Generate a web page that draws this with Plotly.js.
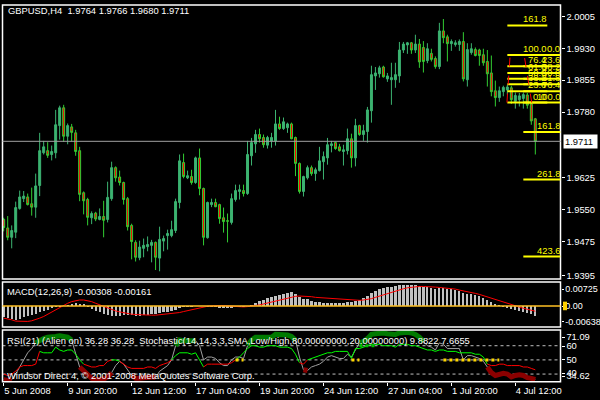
<!DOCTYPE html>
<html><head><meta charset="utf-8">
<script src="https://cdn.plot.ly/plotly-3.0.1.min.js"></script>
<style>html,body{margin:0;padding:0;background:#000;}#chart{width:600px;height:400px;}</style>
</head><body><div id="chart"></div>
<script>
// ---- price data (GBPUSD H4) ----
const open=[
1.9527,1.9507,1.9485,1.9497,1.9553,1.9576,1.9580,1.9564,1.9556,1.9607,
1.9684,1.9689,1.9680,1.9684,1.9748,1.9790,1.9723,1.9745,1.9731,1.9689,
1.9590,1.9574,1.9531,1.9542,1.9527,1.9534,1.9527,1.9576,1.9649,1.9627,
1.9614,1.9576,1.9513,1.9473,1.9437,1.9459,1.9463,1.9466,1.9473,1.9436,
1.9476,1.9489,1.9489,1.9501,1.9567,1.9661,1.9625,1.9628,1.9614,1.9672,
1.9600,1.9484,1.9562,1.9567,1.9562,1.9531,1.9524,1.9520,1.9574,1.9593,
1.9595,1.9588,1.9677,1.9705,1.9727,1.9720,1.9702,1.9712,1.9712,1.9752,
1.9741,1.9743,1.9752,1.9720,1.9659,1.9593,1.9625,1.9649,1.9635,1.9642,
1.9663,1.9672,1.9701,1.9708,1.9698,1.9687,1.9689,1.9717,1.9672,1.9748,
1.9727,1.9734,1.9783,1.9865,1.9870,1.9886,1.9858,1.9856,1.9856,1.9865,
1.9926,1.9938,1.9943,1.9926,1.9940,1.9932,1.9901,1.9918,1.9906,1.9887,
1.9971,1.9957,1.9941,1.9939,1.9939,1.9946,1.9856,1.9920,1.9927,1.9926,
1.9915,1.9899,1.9872,1.9830,1.9814,1.9828,1.9832,1.9837,1.9805,1.9809,
1.9812,1.9820,1.9799,1.9764];
const high=[
1.9531,1.9535,1.9513,1.9569,1.9595,1.9594,1.9588,1.9602,1.9635,1.9731,
1.9712,1.9709,1.9701,1.9785,1.9795,1.9797,1.9753,1.9752,1.9738,1.9698,
1.9593,1.9578,1.9546,1.9545,1.9553,1.9571,1.9616,1.9663,1.9652,1.9642,
1.9616,1.9580,1.9517,1.9478,1.9477,1.9482,1.9487,1.9479,1.9475,1.9510,
1.9489,1.9503,1.9524,1.9576,1.9680,1.9682,1.9642,1.9644,1.9675,1.9694,
1.9602,1.9569,1.9576,1.9576,1.9564,1.9555,1.9541,1.9588,1.9609,1.9609,
1.9609,1.9712,1.9719,1.9738,1.9741,1.9727,1.9724,1.9731,1.9785,1.9769,
1.9767,1.9755,1.9755,1.9722,1.9661,1.9630,1.9654,1.9654,1.9649,1.9698,
1.9687,1.9719,1.9712,1.9710,1.9705,1.9703,1.9741,1.9729,1.9764,1.9750,
1.9750,1.9792,1.9889,1.9886,1.9889,1.9889,1.9872,1.9896,1.9896,1.9945,
1.9945,1.9945,1.9945,1.9962,1.9952,1.9947,1.9942,1.9929,1.9911,1.9990,
1.9999,1.9962,1.9951,1.9949,1.9951,1.9968,1.9942,1.9942,1.9932,1.9929,
1.9929,1.9926,1.9913,1.9854,1.9840,1.9842,1.9844,1.9842,1.9826,1.9825,
1.9826,1.9825,1.9804,1.9766];
const low=[
1.9499,1.9478,1.9459,1.9483,1.9550,1.9568,1.9560,1.9536,1.9531,1.9582,
1.9680,1.9672,1.9666,1.9671,1.9715,1.9710,1.9704,1.9711,1.9677,1.9570,
1.9539,1.9513,1.9516,1.9523,1.9525,1.9485,1.9520,1.9571,1.9616,1.9607,
1.9562,1.9501,1.9433,1.9428,1.9431,1.9438,1.9452,1.9426,1.9408,1.9405,
1.9452,1.9456,1.9485,1.9495,1.9553,1.9624,1.9622,1.9609,1.9611,1.9584,
1.9466,1.9482,1.9556,1.9556,1.9517,1.9496,1.9473,1.9515,1.9569,1.9574,
1.9581,1.9585,1.9654,1.9684,1.9708,1.9696,1.9694,1.9696,1.9701,1.9738,
1.9738,1.9731,1.9716,1.9629,1.9588,1.9581,1.9621,1.9630,1.9618,1.9640,
1.9621,1.9656,1.9685,1.9691,1.9687,1.9654,1.9680,1.9649,1.9652,1.9724,
1.9712,1.9708,1.9755,1.9832,1.9861,1.9861,1.9851,1.9797,1.9837,1.9849,
1.9919,1.9917,1.9917,1.9919,1.9884,1.9873,1.9895,1.9899,1.9882,1.9881,
1.9942,1.9899,1.9924,1.9934,1.9924,1.9852,1.9840,1.9915,1.9911,1.9889,
1.9889,1.9840,1.9817,1.9793,1.9804,1.9817,1.9821,1.9799,1.9788,1.9793,
1.9788,1.9788,1.9750,1.9680];
const close=[
1.9508,1.9485,1.9501,1.9555,1.9580,1.9582,1.9562,1.9556,1.9606,1.9689,
1.9698,1.9678,1.9687,1.9750,1.9790,1.9723,1.9748,1.9732,1.9687,1.9586,
1.9571,1.9532,1.9541,1.9528,1.9534,1.9525,1.9579,1.9649,1.9625,1.9614,
1.9574,1.9510,1.9475,1.9438,1.9462,1.9466,1.9468,1.9473,1.9438,1.9480,
1.9482,1.9494,1.9503,1.9569,1.9665,1.9628,1.9630,1.9614,1.9672,1.9600,
1.9485,1.9567,1.9567,1.9557,1.9529,1.9522,1.9523,1.9576,1.9595,1.9597,
1.9588,1.9680,1.9708,1.9727,1.9717,1.9703,1.9720,1.9720,1.9752,1.9741,
1.9757,1.9752,1.9717,1.9659,1.9593,1.9628,1.9649,1.9635,1.9644,1.9665,
1.9675,1.9703,1.9705,1.9694,1.9689,1.9691,1.9717,1.9672,1.9748,1.9727,
1.9736,1.9785,1.9868,1.9872,1.9884,1.9863,1.9865,1.9861,1.9868,1.9926,
1.9940,1.9943,1.9926,1.9940,1.9898,1.9899,1.9929,1.9904,1.9887,1.9971,
1.9955,1.9941,1.9946,1.9943,1.9946,1.9858,1.9927,1.9929,1.9913,1.9913,
1.9896,1.9870,1.9828,1.9814,1.9830,1.9838,1.9839,1.9809,1.9819,1.9818,
1.9821,1.9796,1.9759,1.9711];

const tickIndex=[0,16,32,48,64,80,96,112,128];
const tickLabels=["5 Jun 2008","9 Jun 20:00","12 Jun 12:00","17 Jun 04:00","19 Jun 20:00","24 Jun 12:00","27 Jun 04:00","1 Jul 20:00","4 Jul 12:00"];
const priceTicks=[2.0005,1.9930,1.9855,1.9780,1.9625,1.9550,1.9475,1.9395];
const lastPrice=1.9711;

// ---- MACD (units of 0.0001) ----
const macdMainE4=[
-32,-37,-40,-42,-39,-35,-31,-27,-25,-19,-15,-11,-7,-4,-2,-1,3,7,8,7,
5,-4,-10,-15,-19,-23,-27,-29,-29,-29,-27,-27,-28,-29,-29,-28,-26,-25,-24,-22,
-19,-17,-15,-12,-7,-4,-4,-3,1,1,0,-2,-3,-4,-5,-6,-6,-5,-4,-3,
-3,1,4,9,14,19,23,27,30,33,36,39,41,35,26,
22,20,16,13,11,10,10,10,10,10,10,11,11,15,19,23,29,39,46,52,
55,57,58,59,62,63,64,63,63,61,58,56,54,51,53,54,52,50,47,45,
38,37,35,32,29,25,19,13,7,2,-3,-6,-10,-13,-15,-17,-20,-25,-31];
const macdSignalE4=[
-37,-39,-42,-46,-47,-47,-47,-45,-42,-37,-32,-25,-19,-12,-5,1,8,13,16,18,
18,16,13,8,3,-2,-7,-11,-15,-18,-21,-23,-25,-26,-27,-28,-28,-28,-28,-27,
-26,-25,-24,-22,-20,-17,-14,-11,-8,-5,-3,-1,0,1,1,1,0,-1,-2,-3,
-3,-2,-1,1,3,6,9,12,15,18,21,24,27,29,30,
30,29,28,26,25,24,23,22,21,20,19,18,17,17,17,18,19,22,26,30,
34,38,42,46,49,52,55,57,58,59,59,59,58,57,56,55,54,52,51,48,
46,44,41,38,35,31,27,23,19,15,11,7,3,-1,-4,-7,-10,-13,-16];
const macdLabels=[['0.00725',0.00725,289],['0.00',0,306],['-0.00638',-0.00638,321.7]];

// ---- RSI / Stochastic window ----
const rsi=[
36,35.5,36,40,45,50,55,58,62,64,65,66,66,66.5,67,66.5,66,64,55,45,
42,39,37,36,36,36.5,38,41,46,49,47,43,39,37,37,37.5,38,38,37.5,42,
44,46,50,60,64,63.5,63.5,63,63.5,60,50,52,52,51,48,46,46,50,52,52,
51,60,64,66,66,65.5,66,66,68,68,68,67.5,66.5,64,52,43,42.5,45,46,47,
49,52,53,52,51,51,54,52,57,62,63,65,68,68.5,69,69,68.5,68,68,69,
69.5,69.5,69,68,66,63,60,59,57,62,61,58,58,58,58,50,53,53,52,51,
49,45,41,39,40,40.5,40,38,39,39.5,39,37.5,37,36.28];
const rsiHiRanges=[[8,17],[43,48],[61,73],[89,105]];
const rsiLoRanges=[[0,2],[19,27],[32,38],[75,76],[121,133]];
const stoch=[
40,39,40,42,45,46,46,46,47,56,55,55,55,59,57,56,57,57,54,50,
47,46,45,45,46,46,49,50,50,49,47,45,44,44,44,44,45,45,44,46,
47,48,50,53,55,55,55,54,55,50,45,47,47,47,47,47,47,48,50,52,
55,58,60,60,59,59,60,60,60,59,59,59,58,54,48,47,50,51,52,53,
54,55,55,56,56,56,56,51,58,58,59,60,61,61,61,60,60,60,59,61,
61,61,60,60,59,58,57,57,56,57,57,56,56,56,55,55,55,55,54,54,
52,47,46,46,47,47,46,46,46,46,45,45,44,43];
const yellowDotRanges=[[58,60],[87,89],[110,124]];
const greenDotRanges=[[89,93]];
const rsiLevels=[60,50,40];
const rsiLabels=[['71.09',337],['60',346],['50',359.7],['40',373],['34.62',376]];

// ---- Fibonacci objects ----
const fibHigh=1.99145, fibLow=1.98024;
const fibA={from:130, to:139.3, levels:[0,23.6,38.2,50,61.8,76.4,100,161.8,261.8,423.6]}; // 0 at high, extends down
const fibB={from:126, to:136, levels:[0,23.6,38.2,50,61.8,76.4,100,161.8]}; // 0 at low, extends up

const idx=open.map((_,i)=>i);
const X=x=>x/600, Y=y=>1-y/400;
const FONT='Liberation Sans, Arial, sans-serif';
const FS=9.4;

// panel geometry (pixels)
const MAIN=[5,279], MACDP=[282,327], RSIP=[330,381.7];
const MACD_RANGE=[-0.00638,0.00725], RSI_RANGE=[34.62,71.09];
// value that sits at a given pixel row inside a panel (used to place MT4-style inner labels)
const atPx=(p,rng,py)=>rng[0]+(rng[1]-rng[0])*(p[1]-py)/(p[1]-p[0]);

function mask(vals,ranges){return vals.map((v,i)=>ranges.some(r=>i>=r[0]&&i<=r[1])?v:null);}
function levelMask(level,ranges){return idx.map(i=>ranges.some(r=>i>=r[0]&&i<=r[1])?level:null);}
function colorRuns(vals){const out=[];let cur=null;for(let i=0;i<vals.length;i++){const c=vals[i]>=50?'#00FF00':'#FF0000';if(!cur||cur.c!==c){if(cur){cur.x.push(i);cur.y.push(vals[i]);}cur={c:c,x:[],y:[]};out.push(cur);}cur.x.push(i);cur.y.push(vals[i]);}return out;}

const traces=[];
traces.push({type:'candlestick',x:idx,open:open,high:high,low:low,close:close,xaxis:'x',yaxis:'y',
  increasing:{line:{color:'#3CB371',width:1},fillcolor:'#3CB371'},
  decreasing:{line:{color:'#32CD32',width:1},fillcolor:'#FF0000'},
  whiskerwidth:0,hoverinfo:'skip',showlegend:false});
traces.push({type:'bar',x:idx,y:macdMainE4.map(v=>v*1e-4),xaxis:'x',yaxis:'y2',marker:{color:'#C0C0C0',line:{width:0}},width:0.55,showlegend:false});
traces.push({type:'scatter',mode:'lines',x:idx,y:macdSignalE4.map(v=>v*1e-4),xaxis:'x',yaxis:'y2',line:{color:'#FF0000',width:1},showlegend:false});
traces.push({type:'scatter',mode:'lines',x:idx,y:rsi,xaxis:'x',yaxis:'y3',line:{color:'#A0A0A0',width:1},showlegend:false});
colorRuns(stoch).forEach(r=>traces.push({type:'scatter',mode:'lines',x:r.x,y:r.y,xaxis:'x',yaxis:'y3',line:{color:r.c,width:1},showlegend:false}));
traces.push({type:'scatter',mode:'lines',x:idx,y:mask(rsi,rsiHiRanges),xaxis:'x',yaxis:'y3',line:{color:'#007A00',width:5},connectgaps:false,showlegend:false});
traces.push({type:'scatter',mode:'lines',x:idx,y:mask(rsi,rsiLoRanges),xaxis:'x',yaxis:'y3',line:{color:'#8B0000',width:5},connectgaps:false,showlegend:false});
traces.push({type:'scatter',mode:'lines',x:idx,y:levelMask(50,yellowDotRanges),xaxis:'x',yaxis:'y3',line:{color:'#FFD700',width:3,dash:'dot'},showlegend:false});
traces.push({type:'scatter',mode:'lines',x:idx,y:levelMask(60,greenDotRanges),xaxis:'x',yaxis:'y3',line:{color:'#00C000',width:3,dash:'dot'},showlegend:false});

const shapes=[];
const border={type:'rect',xref:'paper',yref:'paper',line:{color:'#FFFFFF',width:1.5},fillcolor:'rgba(0,0,0,0)'};
[MAIN,MACDP,RSIP].forEach(p=>shapes.push(Object.assign({x0:X(2.5),x1:X(560.5),y0:Y(p[1]),y1:Y(p[0])},border)));
shapes.push({type:'line',xref:'paper',yref:'y',x0:X(2.5),x1:X(560.5),y0:lastPrice,y1:lastPrice,line:{color:'#A0A0A0',width:1},layer:'above'});
shapes.push({type:'line',xref:'paper',yref:'y2',x0:X(2.5),x1:X(560.5),y0:0,y1:0,line:{color:'#FFC125',width:1.5},layer:'above'});
shapes.push({type:'rect',xref:'paper',yref:'y2',x0:X(563),x1:X(567),y0:-0.0013,y1:0.0013,fillcolor:'#FFD000',line:{width:0}});
rsiLevels.forEach(l=>shapes.push({type:'line',xref:'paper',yref:'y3',x0:X(2.5),x1:X(560.5),y0:l,y1:l,line:{color:'#C0C0C0',width:1,dash:'3px,3px'},layer:'below'}));
const rng=fibLow-fibHigh;
const annotations=[];
fibA.levels.forEach(l=>{const p=fibHigh+rng*l/100;shapes.push({type:'line',xref:'x',yref:'y',x0:fibA.from,x1:fibA.to,y0:p,y1:p,line:{color:'#FFFF00',width:2}});
  annotations.push({xref:'x',yref:'y',x:fibA.to,y:p,xanchor:'right',yanchor:'bottom',text:l.toFixed(1),showarrow:false,font:{family:FONT,size:FS,color:'#FFFF00'},borderpad:0});});
fibB.levels.forEach(l=>{const p=fibLow-rng*l/100;shapes.push({type:'line',xref:'x',yref:'y',x0:fibB.from,x1:fibB.to,y0:p,y1:p,line:{color:'#FFFF00',width:2}});
  annotations.push({xref:'x',yref:'y',x:fibB.to,y:p,xanchor:'right',yanchor:'bottom',text:l.toFixed(1),showarrow:false,font:{family:FONT,size:FS,color:'#FFFF00'},borderpad:0});});
shapes.push({type:'line',xref:'x',yref:'y',x0:125.9,x1:126.7,y0:fibLow,y1:fibHigh,line:{color:'#FF0000',width:1,dash:'dash'}});
shapes.push({type:'line',xref:'x',yref:'y',x0:132.1,x1:130.2,y0:fibLow,y1:fibHigh,line:{color:'#FF0000',width:1,dash:'dash'}});

const txt=(x,y,t)=>({xref:'paper',yref:'paper',x:X(x),y:Y(y),xanchor:'left',yanchor:'middle',text:t,showarrow:false,font:{family:FONT,size:FS,color:'#FFFFFF'},borderpad:0});
annotations.push(txt(7,10.5,'GBPUSD,H4\u00a0\u00a01.9764 1.9766 1.9680 1.9711'));
annotations.push(txt(6,291,'MACD(12,26,9) -0.00308 -0.00161'));
annotations.push(txt(6,340,'RSI(21) (Alien on) 36.28 36.28\u00a0\u00a0Stochastic(14,14,3,3,SMA,Low/High,80.00000000,20.00000000) 9.8822 7.6655'));
annotations.push(txt(6,375,'Windsor Direct 4, \u00a9 2001-2008 MetaQuotes Software Corp.'));
annotations.push({xref:'paper',yref:'y',x:X(563),y:lastPrice,xanchor:'left',yanchor:'middle',text:'1.9711\u00a0',showarrow:false,bgcolor:'#FFFFFF',font:{family:FONT,size:FS,color:'#000000'},borderpad:1});

const axY={side:'right',ticks:'outside',ticklen:3,tickcolor:'#FFFFFF',showgrid:false,zeroline:false,showline:false,tickfont:{family:FONT,size:FS,color:'#FFFFFF'},fixedrange:true};
const layout={
  width:600,height:400,margin:{l:0,r:0,t:0,b:0},paper_bgcolor:'#000000',plot_bgcolor:'#000000',
  showlegend:false,bargap:0,boxgap:0.3,boxgroupgap:0.3,
  xaxis:{domain:[X(2.5),X(560.5)],range:[-0.3,139.3],anchor:'y3',rangeslider:{visible:false},tickvals:tickIndex,ticktext:tickLabels,
    ticks:'outside',ticklen:3,tickcolor:'#FFFFFF',ticklabelposition:'outside right',showgrid:false,zeroline:false,showline:false,
    tickfont:{family:FONT,size:FS,color:'#FFFFFF'},fixedrange:true},
  yaxis:Object.assign({},axY,{domain:[Y(MAIN[1]),Y(MAIN[0])],range:[1.93868,2.0032],tickvals:priceTicks,ticktext:priceTicks.map(v=>v.toFixed(4)),anchor:'x'}),
  yaxis2:Object.assign({},axY,{domain:[Y(MACDP[1]),Y(MACDP[0])],range:MACD_RANGE,ticklen:2,tickfont:{family:FONT,size:9,color:'#FFFFFF'},
    tickvals:macdLabels.map(l=>atPx(MACDP,MACD_RANGE,l[2])),ticktext:macdLabels.map(l=>l[0]),anchor:'x'}),
  yaxis3:Object.assign({},axY,{domain:[Y(RSIP[1]),Y(RSIP[0])],range:RSI_RANGE,
    tickvals:rsiLabels.map(l=>atPx(RSIP,RSI_RANGE,l[1])),ticktext:rsiLabels.map(l=>l[0]),anchor:'x'}),
  shapes:shapes,annotations:annotations
};
Plotly.newPlot('chart',traces,layout,{staticPlot:true,displayModeBar:false});
</script></body></html>
